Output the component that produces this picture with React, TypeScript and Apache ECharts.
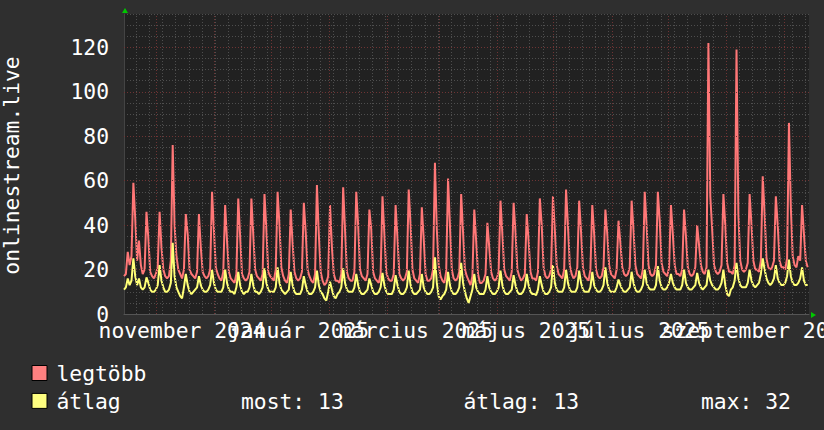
import React, { useEffect, useRef } from "react";
import * as echarts from "echarts";

// x axis: days counted from the left edge of the graph (mid September 2024)
const X_MAX = 365.7;

// legtöbb (max) — one value per day
const legtobb = [
  17, 18,
  28, 22, 26, 59, 43, 24, 33,
  22, 18, 20, 46, 34, 19, 17,
  16, 18, 21, 46, 30, 20, 17,
  16, 17, 24, 76, 40, 26, 20,
  18, 16, 20, 45, 36, 20, 18,
  17, 16, 19, 45, 30, 19, 17,
  16, 17, 20, 55, 38, 21, 18,
  16, 15, 19, 49, 33, 19, 16,
  15, 14, 18, 52, 35, 18, 16,
  15, 16, 19, 52, 36, 20, 17,
  16, 15, 18, 54, 38, 19, 17,
  16, 15, 20, 55, 40, 21, 17,
  15, 14, 18, 47, 32, 19, 16,
  15, 16, 19, 50, 37, 20, 17,
  15, 14, 18, 58, 36, 19, 15,
  13, 14, 17, 49, 30, 18, 15,
  15, 14, 18, 57, 38, 19, 16,
  15, 15, 19, 55, 40, 20, 17,
  16, 15, 18, 47, 38, 19, 16,
  15, 14, 18, 53, 36, 19, 16,
  15, 15, 18, 49, 34, 18, 16,
  15, 16, 19, 56, 40, 20, 16,
  15, 14, 18, 48, 34, 18, 15,
  15, 16, 20, 68, 38, 22, 17,
  15, 14, 19, 61, 40, 20, 16,
  15, 16, 19, 54, 37, 20, 17,
  15, 13, 17, 47, 33, 18, 14,
  14, 15, 18, 41, 30, 19, 16,
  15, 16, 19, 51, 36, 20, 17,
  16, 15, 19, 50, 37, 20, 17,
  15, 16, 18, 45, 33, 19, 16,
  16, 15, 19, 52, 40, 21, 17,
  16, 17, 20, 53, 38, 22, 18,
  17, 16, 20, 56, 40, 22, 18,
  16, 17, 21, 51, 37, 21, 17,
  16, 15, 20, 49, 36, 20, 17,
  16, 17, 21, 47, 36, 22, 18,
  17, 16, 20, 42, 32, 21, 18,
  17, 18, 21, 51, 38, 22, 18,
  17, 16, 20, 55, 40, 22, 18,
  17, 18, 22, 55, 42, 23, 19,
  18, 17, 21, 49, 36, 22, 18,
  18, 17, 20, 47, 35, 21, 18,
  17, 18, 21, 40, 31, 22, 19,
  18, 21, 122, 53, 38, 22, 19,
  18, 19, 22, 54, 40, 23, 19,
  19, 18, 22, 119, 45, 24, 20,
  19, 20, 23, 54, 40, 24, 20,
  20, 19, 24, 62, 45, 25, 21,
  20, 21, 24, 53, 40, 24, 21,
  21, 20, 25, 86, 48, 26, 22,
  21, 26, 24, 49, 36, 24, 21,
];

// átlag (average) — one value per day
const atlag = [
  11, 12,
  16, 13, 15, 25, 17, 13, 16,
  12, 11, 12, 16.5, 14, 11, 10,
  10, 11, 13, 22, 15, 12, 10,
  10, 11, 14, 32, 17, 12, 10,
  8, 7, 12, 18, 13, 10, 9,
  10, 11, 12, 17, 13, 11, 10,
  10, 11, 13, 20, 14, 11, 10,
  10, 10, 12, 20, 14, 11, 10,
  10, 9, 12, 19, 13, 10, 9,
  10, 10, 12, 18, 13, 10, 10,
  9, 10, 12, 20.5, 14, 11, 10,
  10, 10, 12, 21, 14, 11, 10,
  9, 10, 11, 19, 13, 10, 9,
  9, 9, 11, 17, 13, 10, 9,
  9, 10, 12, 19.5, 13, 10, 9,
  7, 6, 10, 14.5, 11, 8, 7,
  9, 10, 12, 20.5, 14, 11, 10,
  10, 10, 12, 18, 13, 10, 9,
  9, 10, 11, 16, 13, 10, 9,
  9, 10, 12, 18.5, 13, 10, 9,
  9, 9, 11, 17.5, 13, 10, 9,
  9, 10, 12, 19.5, 13, 10, 9,
  9, 10, 11, 18, 12, 10, 9,
  9, 10, 12, 25.5, 14, 8, 6.5,
  8, 9, 11, 19, 13, 10, 9,
  9, 10, 12, 23, 14, 10, 7,
  5, 8, 11, 18, 12, 10, 9,
  9, 9, 11, 17, 12, 10, 9,
  9, 10, 12, 19.5, 13, 10, 9,
  9, 10, 11, 17.5, 13, 10, 9,
  9, 10, 12, 18, 13, 10, 9,
  9, 8.5, 11, 17, 13, 10, 9,
  9, 10, 12, 22, 14, 11, 10,
  10, 10, 12, 20, 14, 11, 10,
  10, 10, 12, 19.5, 14, 11, 10,
  10, 10, 12, 19, 13, 11, 10,
  10, 11, 13, 21, 14, 11, 10,
  10, 10, 12, 15.5, 13, 11, 10,
  10, 11, 12, 19, 14, 11, 10,
  10, 11, 13, 20, 14, 12, 11,
  11, 11, 13, 21.5, 15, 12, 11,
  11, 12, 14, 18, 14, 12, 11,
  11, 11, 13, 20, 14, 12, 11,
  11, 12, 13, 18.5, 14, 12, 11,
  12, 13, 20, 15, 13, 12, 11,
  11, 12, 14, 20, 13, 9, 8,
  11, 12, 15, 23, 16, 13, 12,
  12, 12, 14, 20, 15, 13, 12,
  13, 14, 18, 25, 20, 16, 14,
  13, 14, 16, 22, 16, 14, 13,
  13, 14, 17, 24.5, 17, 14, 13,
  13, 14, 16, 21, 15, 13, 13,
];

// x axis labels (day positions and texts)
const xLabelDays = [31.0, 93.2, 155.9, 214.6, 274.9, 338.4];
const xLabelTexts = [
  "november 2024",
  "január 2025",
  "március 2025",
  "május 2025",
  "július 2025",
  "szeptember 2025",
];
// month start grid lines (days)
const monthDays = [17.4, 48.4, 78.4, 109.4, 140.4, 168.4, 199.4, 229.4, 260.4, 290.4, 321.4, 352.4];
// week grid lines (days)
const weekDays: number[] = [];
for (let k = 0; k < 52; k++) weekDays.push(6.57 + 7 * k);
// major horizontal grid values
const majorY = [20, 40, 60, 80, 100, 120];

const legendRows = [
  { name: "legtöbb", color: "#ff8080" },
  { name: "átlag", color: "#ffff80" },
];
const statTexts = ["most: 13", "átlag: 13", "max: 32"];

const FONT = '"DejaVu Sans Mono", monospace';
const FS = 21.33;

export default function App() {
  const ref = useRef<HTMLDivElement>(null);
  useEffect(() => {
    if (!ref.current) return;
    const chart = echarts.init(ref.current, null, { renderer: "svg" });
    const minorGrid = "#4e4e4e";
    const majorGrid = "#6e3434";
    const markData: any[] = [];
    weekDays.forEach((d) =>
      markData.push({ xAxis: d, lineStyle: { color: minorGrid, type: [1, 2], width: 1 } })
    );
    monthDays.forEach((d) =>
      markData.push({ xAxis: d, lineStyle: { color: majorGrid, type: [1, 2], width: 1 } })
    );
    majorY.forEach((v) =>
      markData.push({ yAxis: v, lineStyle: { color: majorGrid, type: [1, 2], width: 1 } })
    );

    const graphic: any[] = [
      {
        type: "text",
        x: 11,
        y: 165.5,
        rotation: Math.PI / 2,
        style: {
          text: "onlinestream.live",
          fill: "#ffffff",
          font: `${FS}px ${FONT}`,
          textAlign: "center",
          textVerticalAlign: "middle",
        },
      },
      {
        type: "polygon",
        shape: { points: [[122, 13], [128, 13], [125, 8]] },
        style: { fill: "#00c800" },
      },
      {
        type: "polygon",
        shape: { points: [[811, 312], [811, 318], [816, 315]] },
        style: { fill: "#00c800" },
      },
    ];
    const rowY = [373.3, 401.2];
    legendRows.forEach((r, i) => {
      graphic.push({
        type: "rect",
        shape: { x: 32, y: rowY[i] - 7.8, width: 15, height: 15 },
        style: { fill: r.color, stroke: "#000000", lineWidth: 1 },
      });
      graphic.push({
        type: "text",
        x: 56.5,
        y: rowY[i],
        style: {
          text: r.name,
          fill: "#ffffff",
          font: `${FS}px ${FONT}`,
          textAlign: "left",
          textVerticalAlign: "middle",
        },
      });
    });
    const statX = [241, 463.5, 701];
    statTexts.forEach((t, i) => {
      graphic.push({
        type: "text",
        x: statX[i],
        y: rowY[1],
        style: {
          text: t,
          fill: "#ffffff",
          font: `${FS}px ${FONT}`,
          textAlign: "left",
          textVerticalAlign: "middle",
        },
      });
    });

    chart.setOption({
      animation: false,
      backgroundColor: "#2f2f2f",
      grid: {
        left: 124,
        top: 14,
        width: 685,
        height: 300,
        show: true,
        backgroundColor: "#212121",
        borderWidth: 0,
        containLabel: false,
        outerBoundsMode: "none",
      },
      xAxis: [
        {
          type: "value",
          min: 0,
          max: X_MAX,
          axisLine: { show: true, onZero: false, lineStyle: { color: "#555555" } },
          axisTick: { show: false },
          axisLabel: { show: false },
          splitLine: { show: false },
        },
      ],
      yAxis: [
        {
          type: "value",
          min: 0,
          max: 135,
          interval: 5,
          axisLine: { show: true, lineStyle: { color: "#444444" } },
          axisTick: { show: false },
          splitLine: { show: true, lineStyle: { color: minorGrid, type: [1, 2], width: 1 } },
          axisLabel: {
            formatter: (v: number) => (v % 20 === 0 && v <= 120 ? String(v) : ""),
            color: "#ffffff",
            fontFamily: FONT,
            fontSize: FS,
            margin: 15,
          },
        },
      ],
      series: [
        {
          type: "line",
          name: "grid",
          data: [
            [0, -5],
            [X_MAX, -5],
          ],
          symbol: "none",
          lineStyle: { opacity: 0 },
          silent: true,
          z: 1,
          markLine: {
            silent: true,
            symbol: ["none", "none"],
            label: { show: false },
            animation: false,
            data: markData,
          },
        },
        {
          type: "line",
          name: "legtöbb",
          data: legtobb.map((v, i) => [i, v]),
          symbol: "none",
          showSymbol: false,
          lineStyle: { color: "#ff7777", width: 2 },
          z: 3,
        },
        {
          type: "line",
          name: "átlag",
          data: atlag.map((v, i) => [i, v]),
          symbol: "none",
          showSymbol: false,
          lineStyle: { color: "#ffff77", width: 2 },
          z: 4,
        },
      ],
      graphic,
    });

    // x-axis month labels placed through the axis scale (they overlap, as in the original)
    const y0 = chart.convertToPixel({ yAxisIndex: 0 }, 0) as number;
    const labelEls = xLabelDays.map((d, i) => ({
      type: "text",
      x: chart.convertToPixel({ xAxisIndex: 0 }, d) as number,
      y: y0 + 16.7,
      style: {
        text: xLabelTexts[i],
        fill: "#ffffff",
        font: `${FS}px ${FONT}`,
        textAlign: "center",
        textVerticalAlign: "middle",
      },
    }));
    chart.setOption({ graphic: [...graphic, ...labelEls] });
    return () => chart.dispose();
  }, []);
  return (
    <div
      ref={ref}
      style={{ position: "fixed", left: 0, top: 0, width: 824, height: 430 }}
    />
  );
}
